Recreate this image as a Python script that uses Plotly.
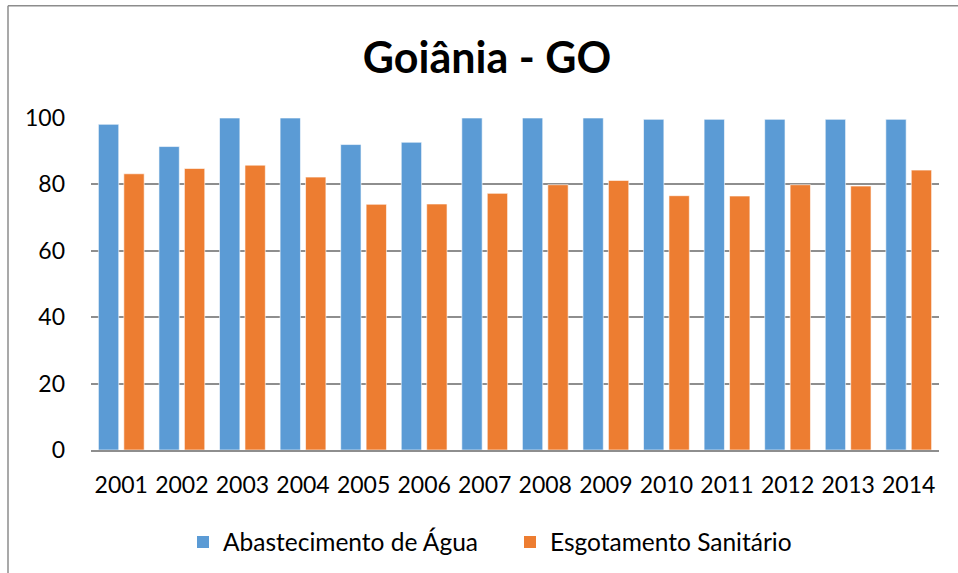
import plotly.graph_objects as go

years = ["2001", "2002", "2003", "2004", "2005", "2006", "2007",
         "2008", "2009", "2010", "2011", "2012", "2013", "2014"]
agua = [98.1, 91.4, 100.0, 100.0, 92.0, 92.7, 100.0,
        100.0, 100.0, 99.6, 99.6, 99.6, 99.6, 99.6]
esgoto = [83.2, 84.8, 85.8, 82.2, 74.0, 74.1, 77.3,
          79.9, 81.2, 76.6, 76.5, 79.9, 79.5, 84.3]
y_ticks = [0, 20, 40, 60, 80, 100]
series_names = ["Abastecimento de Água", "Esgotamento Sanitário"]
series_colors = ["#5B9BD5", "#ED7D31"]

W, H = 958, 573
ML, MR, MT, MB = 91, 19, 117.5, 122.5
FONT = "Lato, Carlito, Calibri, sans-serif"

fig = go.Figure()
for name, vals, col in zip(series_names, [agua, esgoto], series_colors):
    fig.add_trace(go.Bar(name=name, x=years, y=vals, showlegend=False,
                         marker=dict(color=col,
                                     line=dict(color="rgba(255,255,255,0.6)", width=1))))
# legend entries with larger square swatches
for name, col in zip(series_names, series_colors):
    fig.add_trace(go.Scatter(name=name, x=[None], y=[None], mode="markers",
                             marker=dict(symbol="square", size=15, color=col),
                             showlegend=True))

pw = W - ML - MR
ph = H - MT - MB
bx = (8 - ML) / pw
by = (H - 5 - MB) / ph

fig.update_layout(
    width=W, height=H,
    margin=dict(l=ML, r=MR, t=MT, b=MB, autoexpand=False),
    paper_bgcolor="white", plot_bgcolor="white",
    font=dict(family=FONT, size=23, color="#000000"),
    title=dict(text="<b>Goiânia - GO</b>", x=487 / W, xref="container",
               y=1 - 58 / H, yref="container", xanchor="center", yanchor="middle",
               font=dict(family=FONT, size=43, color="#000000")),
    barmode="group", bargap=0.16, bargroupgap=0.2,
    showlegend=True,
    legend=dict(orientation="h", xref="container", yref="container",
                x=510 / W, y=1 - 542 / H, xanchor="center", yanchor="middle",
                font=dict(family=FONT, size=24.5, color="#000000"),
                itemsizing="constant", traceorder="normal", itemwidth=30,
                entrywidth=282, entrywidthmode="pixels"),
    xaxis=dict(type="category", showgrid=False, showline=True,
               linecolor="#8e8e8e", linewidth=1.5, ticks="",
               ticklabelstandoff=14, tickfont=dict(size=23)),
    yaxis=dict(range=[0, 100], tickvals=y_ticks, showgrid=True,
               gridcolor="#8e8e8e", gridwidth=1.5, zeroline=False,
               showline=False, ticks="", ticklabelstandoff=25,
               tickfont=dict(size=23)),
    shapes=[
        dict(type="line", xref="paper", yref="paper", x0=bx, x1=bx, y0=-2, y1=by,
             line=dict(color="#8c8c8c", width=1.5)),
        dict(type="line", xref="paper", yref="paper", x0=bx, x1=2, y0=by, y1=by,
             line=dict(color="#8c8c8c", width=1.5)),
    ],
)

fig.write_html("out.html", config={"displayModeBar": False},
               post_script="document.body.style.margin='0';document.body.style.padding='0';")
